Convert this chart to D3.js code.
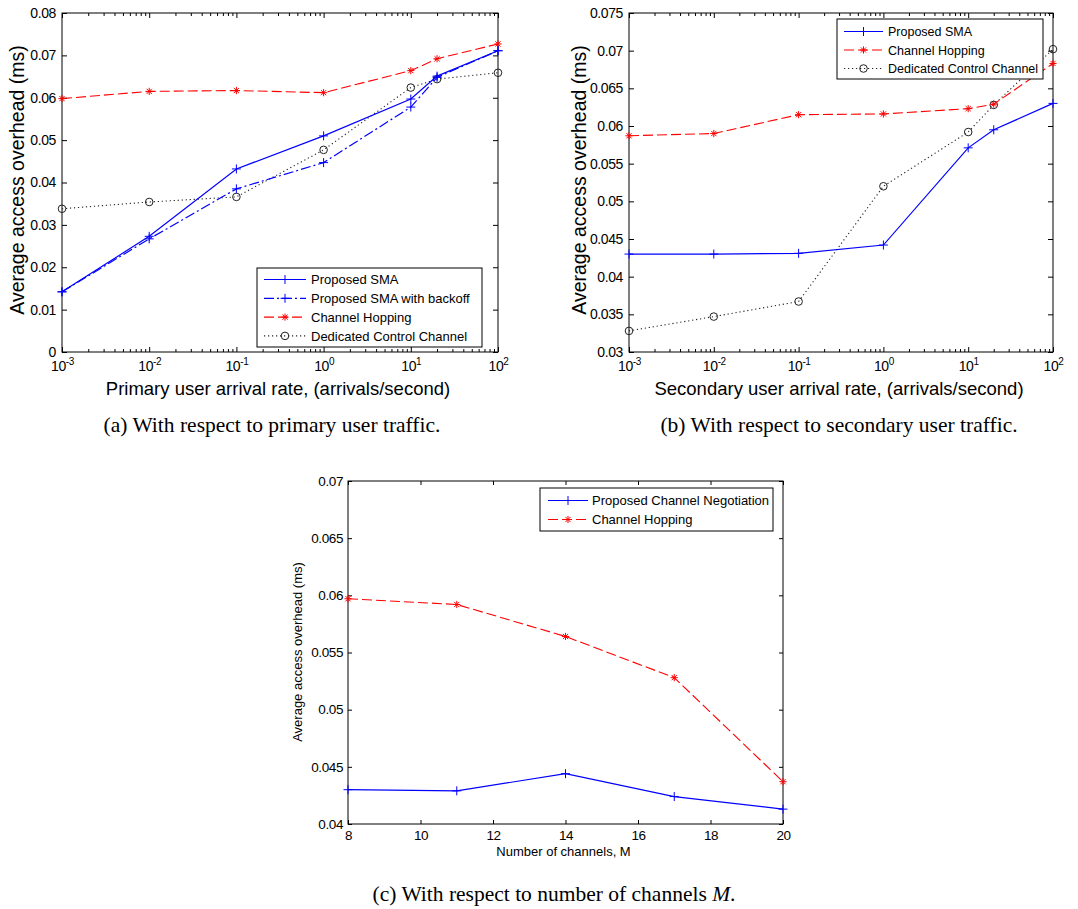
<!DOCTYPE html>
<html>
<head>
<meta charset="utf-8">
<script src="https://cdn.jsdelivr.net/npm/d3@7"></script>
<style>
  html, body { margin: 0; padding: 0; background: #fff; }
  svg { display: block; }
  text { font-family: "Liberation Sans", Arial, sans-serif; fill: #000; }
  .caption { font-family: "Liberation Serif", "Times New Roman", serif; }
</style>
</head>
<body>
<svg id="fig" width="1078" height="909"></svg>
<script>
// ---- data -------------------------------------------------------------
// arrival rates on the log axis (arrivals/second)
const arrivalRates = [0.001, 0.01, 0.1, 1, 10, 20, 100];
const decadeTicks = [0.001, 0.01, 0.1, 1, 10, 100];

// (a) overhead vs primary user arrival rate (ms)
const puSMA        = [0.0142, 0.0273, 0.0432, 0.0510, 0.0597, 0.0651, 0.0711];
const puSMABackoff = [0.0142, 0.0267, 0.0385, 0.0447, 0.0578, 0.0648, 0.0711];
const puHopping    = [0.0598, 0.0615, 0.0617, 0.0612, 0.0664, 0.0692, 0.0727];
const puDedicated  = [0.0338, 0.0354, 0.0366, 0.0477, 0.0624, 0.0644, 0.0659];

// (b) overhead vs secondary user arrival rate (ms)
const suSMA       = [0.0430, 0.0430, 0.0431, 0.0442, 0.0571, 0.0595, 0.0630];
const suHopping   = [0.0587, 0.0590, 0.0615, 0.0616, 0.0623, 0.0629, 0.0683];
const suDedicated = [0.0328, 0.0347, 0.0367, 0.0520, 0.0592, 0.0628, 0.0702];

// (c) overhead vs number of channels M (ms)
const channelCounts = [8, 11, 14, 17, 20];
const channelTicks  = [8, 10, 12, 14, 16, 18, 20];
const mNegotiation  = [0.0430, 0.0429, 0.0444, 0.0424, 0.0413];
const mHopping      = [0.0597, 0.0592, 0.0564, 0.0528, 0.0437];

// y tick values
const yTicksA = [0, 0.01, 0.02, 0.03, 0.04, 0.05, 0.06, 0.07, 0.08];
const yTicksB = [0.03, 0.035, 0.04, 0.045, 0.05, 0.055, 0.06, 0.065, 0.07, 0.075];
const yTicksC = [0.04, 0.045, 0.05, 0.055, 0.06, 0.065, 0.07];

// ---- styles -----------------------------------------------------------
function solid()   { return { color: "#0000ff", width: 1.2, dash: null, marker: "plus" }; }
function dashDot() { return { color: "#0000ff", width: 1.2, dash: "10,3,2,3", marker: "plus" }; }
function dashed()  { return { color: "#ff0000", width: 1.1, dash: "10,4", marker: "star" }; }
function dotted()  { return { color: "#222222", width: 1.1, dash: "1.2,2.8", marker: "circle" }; }

const svg = d3.select("#fig");

function drawMarker(g, type, color, cx, cy) {
  if (type === "circle") {
    g.append("circle").attr("cx", cx).attr("cy", cy).attr("r", 3.8)
      .attr("fill", "none").attr("stroke", color).attr("stroke-width", 1);
    return;
  }
  const s = type === "plus" ? 4.5 : 3.6;
  let d = `M${cx - s},${cy}H${cx + s}M${cx},${cy - s}V${cy + s}`;
  if (type === "star") {
    const k = s * 0.72;
    d += `M${cx - k},${cy - k}L${cx + k},${cy + k}M${cx - k},${cy + k}L${cx + k},${cy - k}`;
  }
  g.append("path").attr("d", d)
    .attr("fill", "none").attr("stroke", color).attr("stroke-width", 1);
}

function styleAxis(sel, size) {
  sel.attr("font-family", null).attr("font-size", null);
  sel.selectAll("text").attr("font-size", size).attr("letter-spacing", -0.4).attr("fill", "#000");
  sel.selectAll("line").attr("stroke", "#000");
  sel.select(".domain").remove();
}

function drawPanel(p) {
  const g = svg.append("g");
  const x = p.x, y = p.y;
  const [x0, x1] = x.range();
  const [y0, y1] = y.range(); // y0 bottom, y1 top

  // ticks: inward on all four sides
  const bottom = g.append("g").attr("transform", `translate(0,${y0})`)
    .call(d3.axisBottom(x).tickValues(p.xTicks).tickSize(-p.tick).tickPadding(p.xPad)
      .tickFormat(p.logX ? () => "" : d3.format("d")));
  styleAxis(bottom, p.tickFont);
  const top = g.append("g").attr("transform", `translate(0,${y1})`)
    .call(d3.axisTop(x).tickValues(p.xTicks).tickSize(-p.tick).tickFormat(""));
  styleAxis(top, p.tickFont);
  const left = g.append("g").attr("transform", `translate(${x0},0)`)
    .call(d3.axisLeft(y).tickValues(p.yTicks).tickSize(-p.tick).tickPadding(p.yPad)
      .tickFormat(v => String(v)));
  styleAxis(left, p.tickFont);
  const right = g.append("g").attr("transform", `translate(${x1},0)`)
    .call(d3.axisRight(y).tickValues(p.yTicks).tickSize(-p.tick).tickFormat(""));
  styleAxis(right, p.tickFont);

  if (p.logX) {
    // minor decade ticks 2..9
    const minor = [];
    decadeTicks.slice(0, -1).forEach(t => { for (let m = 2; m <= 9; m++) minor.push(t * m); });
    const mb = g.append("g").attr("transform", `translate(0,${y0})`)
      .call(d3.axisBottom(x).tickValues(minor).tickSize(-3).tickFormat(""));
    styleAxis(mb, p.tickFont);
    const mt = g.append("g").attr("transform", `translate(0,${y1})`)
      .call(d3.axisTop(x).tickValues(minor).tickSize(-3).tickFormat(""));
    styleAxis(mt, p.tickFont);
    // power-of-ten labels with superscript exponents
    bottom.selectAll(".tick text").each(function (d) {
      const e = Math.round(Math.log10(d));
      const t = d3.select(this).text(null);
      t.append("tspan").text("10");
      t.append("tspan").attr("dy", "-0.55em").attr("font-size", "10px").text(e);
    });
  }

  // frame
  g.append("rect").attr("x", x0).attr("y", y1).attr("width", x1 - x0).attr("height", y0 - y1)
    .attr("fill", "none").attr("stroke", "#000").attr("stroke-width", 1);

  // series (last legend entry underneath, first on top)
  const line = d3.line().x(d => x(d[0])).y(d => y(d[1]));
  p.series.slice().reverse().forEach(s => {
    const pts = s.xs.map((v, i) => [v, s.ys[i]]);
    const sg = g.append("g").attr("stroke", s.style.color).attr("fill", "none");
    sg.append("path").attr("d", line(pts)).attr("stroke-width", s.style.width)
      .attr("stroke-dasharray", s.style.dash);
    pts.forEach(pt => drawMarker(sg, s.style.marker, s.style.color, x(pt[0]), y(pt[1])));
  });

  // axis titles
  g.append("text").attr("x", (x0 + x1) / 2 + p.xLabelDx).attr("y", p.xLabelY)
    .attr("text-anchor", "middle").attr("font-size", p.labelFont).text(p.xLabel);
  g.append("text").attr("transform", `translate(${p.yLabelX},${p.yLabelCy}) rotate(-90)`)
    .attr("text-anchor", "middle").attr("font-size", p.yLabelFont).text(p.yLabel);

  // legend
  const L = p.legend;
  const lg = g.append("g");
  lg.append("rect").attr("x", L.x).attr("y", L.y).attr("width", L.w).attr("height", L.h)
    .attr("fill", "#fff").attr("stroke", "#000").attr("stroke-width", 1);
  p.series.forEach((s, i) => {
    const ry = L.row0 + i * L.step;
    lg.append("line").attr("x1", L.s0).attr("x2", L.s1).attr("y1", ry).attr("y2", ry)
      .attr("stroke", s.style.color).attr("stroke-width", s.style.width)
      .attr("stroke-dasharray", s.style.dash);
    drawMarker(lg, s.style.marker, s.style.color, (L.s0 + L.s1) / 2, ry);
    lg.append("text").attr("x", L.tx).attr("y", ry).attr("dy", "0.36em")
      .attr("font-size", L.font).text(s.name);
  });

  // caption
  const cap = svg.append("text").attr("class", "caption").attr("x", p.capX).attr("y", p.capY)
    .attr("text-anchor", "middle").attr("font-size", 21.5);
  p.caption.forEach(part => {
    const t = cap.append("tspan").text(part.t);
    if (part.italic) t.attr("font-style", "italic");
  });
}

const yTitle = "Average access overhead (ms)";

drawPanel({
  x: d3.scaleLog().domain([0.001, 100]).range([62, 498]),
  y: d3.scaleLinear().domain([0, 0.08]).range([352, 13]),
  logX: true, xTicks: decadeTicks, yTicks: yTicksA,
  tick: 5, xPad: 9, yPad: 6, tickFont: 14,
  xLabel: "Primary user arrival rate, (arrivals/second)", xLabelY: 395, xLabelDx: -2,
  labelFont: 18.5, yLabel: yTitle, yLabelX: 24, yLabelCy: 180, yLabelFont: 19.5,
  series: [
    { name: "Proposed SMA", xs: arrivalRates, ys: puSMA, style: solid() },
    { name: "Proposed SMA with backoff", xs: arrivalRates, ys: puSMABackoff, style: dashDot() },
    { name: "Channel Hopping", xs: arrivalRates, ys: puHopping, style: dashed() },
    { name: "Dedicated Control Channel", xs: arrivalRates, ys: puDedicated, style: dotted() }
  ],
  legend: { x: 257, y: 268, w: 225, h: 79, row0: 279.5, step: 18.8, s0: 264, s1: 306, tx: 311, font: 13 },
  caption: [{ t: "(a) With respect to primary user traffic." }], capX: 272, capY: 432
});

drawPanel({
  x: d3.scaleLog().domain([0.001, 100]).range([629, 1053]),
  y: d3.scaleLinear().domain([0.03, 0.075]).range([352, 13]),
  logX: true, xTicks: decadeTicks, yTicks: yTicksB,
  tick: 5, xPad: 9, yPad: 6, tickFont: 14,
  xLabel: "Secondary user arrival rate, (arrivals/second)", xLabelY: 395, xLabelDx: -2,
  labelFont: 18.5, yLabel: yTitle, yLabelX: 586, yLabelCy: 180, yLabelFont: 19.5,
  series: [
    { name: "Proposed SMA", xs: arrivalRates, ys: suSMA, style: solid() },
    { name: "Channel Hopping", xs: arrivalRates, ys: suHopping, style: dashed() },
    { name: "Dedicated Control Channel", xs: arrivalRates, ys: suDedicated, style: dotted() }
  ],
  legend: { x: 837, y: 19, w: 206, h: 60, row0: 31.5, step: 18.5, s0: 844, s1: 883, tx: 888, font: 12.5 },
  caption: [{ t: "(b) With respect to secondary user traffic." }], capX: 839, capY: 432
});

drawPanel({
  x: d3.scaleLinear().domain([8, 20]).range([348, 783]),
  y: d3.scaleLinear().domain([0.04, 0.07]).range([824, 481]),
  logX: false, xTicks: channelTicks, yTicks: yTicksC,
  tick: 4, xPad: 6, yPad: 5, tickFont: 13.5,
  xLabel: "Number of channels, M", xLabelY: 856, xLabelDx: -2,
  labelFont: 13, yLabel: yTitle, yLabelX: 302, yLabelCy: 652, yLabelFont: 13,
  series: [
    { name: "Proposed Channel Negotiation", xs: channelCounts, ys: mNegotiation, style: solid() },
    { name: "Channel Hopping", xs: channelCounts, ys: mHopping, style: dashed() }
  ],
  legend: { x: 540, y: 488, w: 233, h: 43, row0: 500.5, step: 19, s0: 548, s1: 588, tx: 592, font: 13 },
  caption: [{ t: "(c) With respect to number of channels " }, { t: "M", italic: true }, { t: "." }],
  capX: 554, capY: 901
});
</script>
</body>
</html>
